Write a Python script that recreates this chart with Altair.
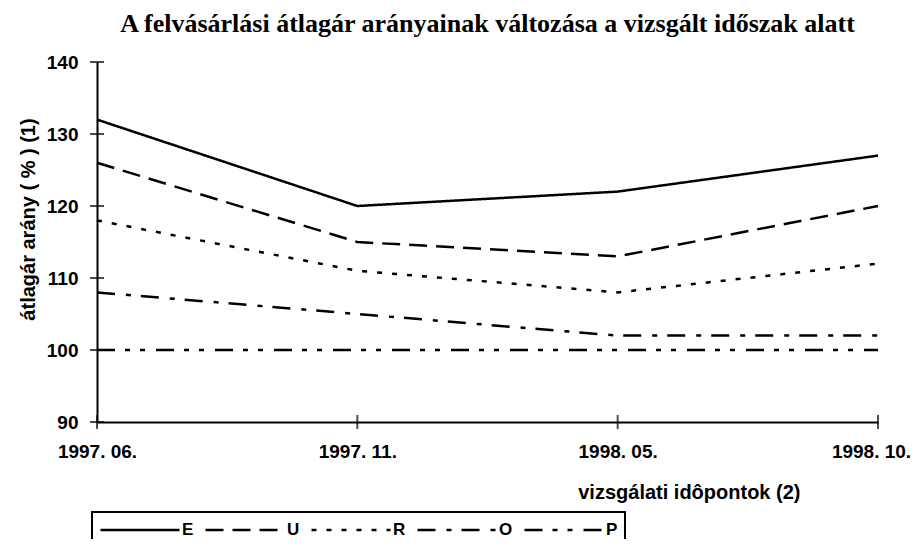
import altair as alt
import pandas as pd

dates = ["1997. 06.", "1997. 11.", "1998. 05.", "1998. 10."]
series = ["E", "U", "R", "O", "P"]
E = [132, 120, 122, 127]
U = [126, 115, 113, 120]
R = [118, 111, 108, 112]
O = [108, 105, 102, 102]
P = [100, 100, 100, 100]
y_ticks = [90, 100, 110, 120, 130, 140]

dashes = [[1, 0], [18, 9], [5, 10], [18, 11, 5, 10], [18, 10, 5, 10, 5, 11]]
widths = [2.5, 2.5, 2.5, 3, 3]

rows = []
for name, vals in zip(series, [E, U, R, O, P]):
    for d, v in zip(dates, vals):
        rows.append({"date": d, "series": name, "value": v})
df = pd.DataFrame(rows)

W, H = 781, 360
font = "Liberation Sans"

x_enc = alt.X("date:N", sort=dates,
              scale=alt.Scale(type="point", padding=0, domain=dates),
              axis=alt.Axis(title="vizsgálati idôpontok (2)", labelAngle=0, ticks=False,
                            labelPadding=20, labelFont=font, labelFontSize=19,
                            labelFontWeight="bold", labelColor="black",
                            labelOffset=alt.condition("datum.value == '1998. 10.'", alt.value(-7), alt.value(0)),
                            domainColor="black", domainWidth=2,
                            titleFont=font, titleFontSize=20, titleFontWeight="bold",
                            titleColor="black", titleX=703, titleY=70,
                            titleAlign="right", titleBaseline="middle", grid=False))
y_enc = alt.Y("value:Q", scale=alt.Scale(domain=[90, 140], nice=False, zero=False),
              axis=alt.Axis(title="átlagár arány ( % ) (1)", values=y_ticks, ticks=False,
                            labelPadding=19, labelFont=font, labelFontSize=19,
                            labelFontWeight="bold", labelColor="black",
                            domainColor="black", domainWidth=2,
                            titleFont=font, titleFontSize=20, titleFontWeight="bold",
                            titleColor="black", titleX=-69, titleY=157, titleAngle=270,
                            titleAlign="center", titleBaseline="middle", grid=False))

lines = alt.Chart(df).mark_line(color="black", strokeCap="butt").encode(
    x=x_enc,
    y=y_enc,
    strokeDash=alt.StrokeDash("series:N", scale=alt.Scale(domain=series, range=dashes),
                              legend=alt.Legend(title=None, orient="none", legendX=-5, legendY=450,
                                                direction="horizontal", symbolType="stroke",
                                                symbolSize=6241, symbolStrokeWidth=2,
                                                symbolStrokeColor="black", clipHeight=22,
                                                labelFont=font, labelFontSize=17,
                                                labelFontWeight="bold", labelColor="black",
                                                strokeColor="black", padding=7,
                                                columnPadding=10, labelOffset=1)),
    strokeWidth=alt.StrokeWidth("series:N", scale=alt.Scale(domain=series, range=widths),
                                legend=None),
)

yt = alt.Chart(pd.DataFrame({"v": y_ticks})).mark_tick(
    color="black", thickness=2, size=14, orient="horizontal").encode(
    y=alt.Y("v:Q", scale=alt.Scale(domain=[90, 140], nice=False, zero=False)),
    x=alt.value(0),
)
xt = alt.Chart(pd.DataFrame({"d": dates})).mark_tick(
    color="black", thickness=2, size=14, orient="vertical").encode(
    x=alt.X("d:N", sort=dates, scale=alt.Scale(type="point", padding=0, domain=dates)),
    y=alt.value(H),
)

chart = alt.layer(lines, yt, xt).properties(
    width=W, height=H, background="white",
    title=alt.Title("A felvásárlási átlagár arányainak változása a vizsgált időszak alatt",
                    font="Liberation Serif", fontSize=26, fontWeight="bold", color="black",
                    offset=16, anchor="middle"),
    autosize=alt.AutoSizeParams(type="none"),
    padding={"left": 89, "top": 54, "right": 35, "bottom": 117},
).configure_view(stroke=None).configure_legend(strokeWidth=2)

chart.save("out.html", embed_options={"renderer": "svg", "actions": False})
